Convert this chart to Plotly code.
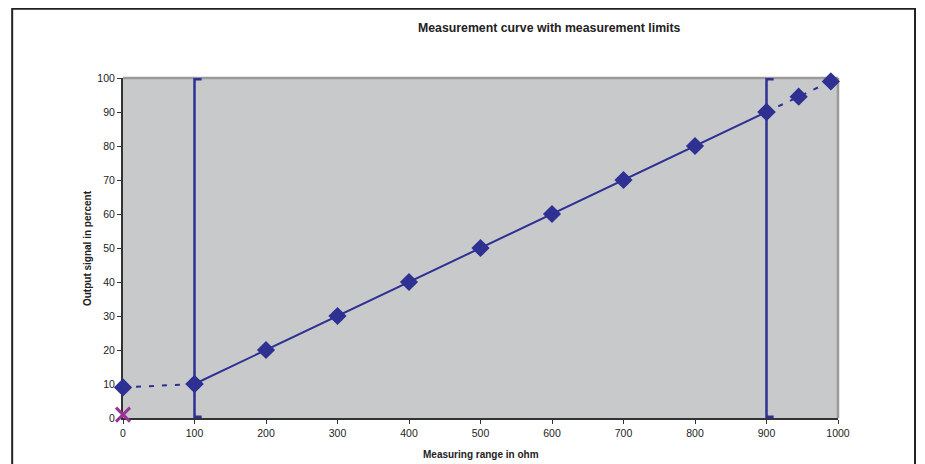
import plotly.graph_objects as go

# Data
solid_x = [100, 200, 300, 400, 500, 600, 700, 800, 900]
solid_y = [10, 20, 30, 40, 50, 60, 70, 80, 90]
low_ext_x = [0, 100]
low_ext_y = [9, 10]
high_ext_x = [900, 945, 990]
high_ext_y = [90, 94.5, 99]
zero_x = [0]
zero_y = [1]
limits = [100, 900]
y_range = [0, 100]
x_ticks = list(range(0, 1001, 100))
y_ticks = list(range(0, 101, 10))

navy = "#2E3192"
fig = go.Figure()

# limit lines with small end caps
for lim in limits:
    fig.add_trace(go.Scatter(x=[lim, lim], y=y_range, mode="lines",
                             line=dict(color=navy, width=2.5), showlegend=False, hoverinfo="skip"))
    for yy in y_range:
        fig.add_trace(go.Scatter(x=[lim, lim + 10], y=[yy, yy], mode="lines",
                                 line=dict(color=navy, width=5), showlegend=False, hoverinfo="skip"))

fig.add_trace(go.Scatter(x=low_ext_x, y=low_ext_y, mode="lines+markers",
                         line=dict(color=navy, width=2, dash="5px,8px"),
                         marker=dict(symbol="diamond", size=14, color=navy), showlegend=False))
fig.add_trace(go.Scatter(x=high_ext_x, y=high_ext_y, mode="lines+markers",
                         line=dict(color=navy, width=2, dash="5px,8px"),
                         marker=dict(symbol="diamond", size=14, color=navy), showlegend=False))
fig.add_trace(go.Scatter(x=solid_x, y=solid_y, mode="lines+markers",
                         line=dict(color=navy, width=2),
                         marker=dict(symbol="diamond", size=14, color=navy), showlegend=False))
fig.add_trace(go.Scatter(x=zero_x, y=zero_y, mode="markers",
                         marker=dict(symbol="x-thin-open", size=14, color="#993399",
                                     line=dict(color="#993399", width=3)),
                         showlegend=False))

for tr in fig.data:
    tr.cliponaxis = False

fig.update_layout(
    width=917, height=456,
    margin=dict(l=115, r=87, t=70, b=46),
    paper_bgcolor="white",
    plot_bgcolor="#C8C9CB",
    font=dict(family="Liberation Sans, Arial, sans-serif", size=10, color="#222"),
    xaxis=dict(range=[0, 1000], tickvals=x_ticks, showgrid=False, zeroline=False,
               showline=True, linecolor="#333", linewidth=2, layer="below traces",
               ticks="outside", ticklen=4, tickcolor="#333", tickfont=dict(size=10.5)),
    yaxis=dict(range=[0, 100], tickvals=y_ticks, showgrid=False, zeroline=False,
               showline=True, linecolor="#333", linewidth=2, layer="below traces",
               ticks="outside", ticklen=4, tickcolor="#333", tickfont=dict(size=10.5)),
    shapes=[
        dict(type="line", xref="paper", yref="paper", x0=0, x1=1, y0=1, y1=1, layer="below",
             line=dict(color="#9A9A9A", width=2.5)),
        dict(type="line", xref="paper", yref="paper", x0=1, x1=1, y0=0, y1=1, layer="below",
             line=dict(color="#9A9A9A", width=2.5)),
        dict(type="path", xref="paper", yref="paper",
             path="M -0.155,-0.2 L -0.155,1.204 L 1.1077,1.204 L 1.1077,-0.2",
             line=dict(color="#222", width=2)),
    ],
    annotations=[
        dict(text="<b>Measurement curve with measurement limits</b>", xref="paper", yref="paper",
             x=0.597, y=1.147, xanchor="center", yanchor="middle", showarrow=False,
             font=dict(size=12.3, color="#222")),
        dict(text="<b>Measuring range in ohm</b>", xref="paper", yref="paper",
             x=0.5, y=-36 / 340, xanchor="center", yanchor="middle", showarrow=False,
             font=dict(size=10, color="#222")),
        dict(text="<b>Output signal in percent</b>", xref="paper", yref="paper",
             x=-0.0503, y=0.5, xanchor="center", yanchor="middle", showarrow=False,
             textangle=-90, font=dict(size=10, color="#222")),
    ],
)

fig.write_html("out.html")
